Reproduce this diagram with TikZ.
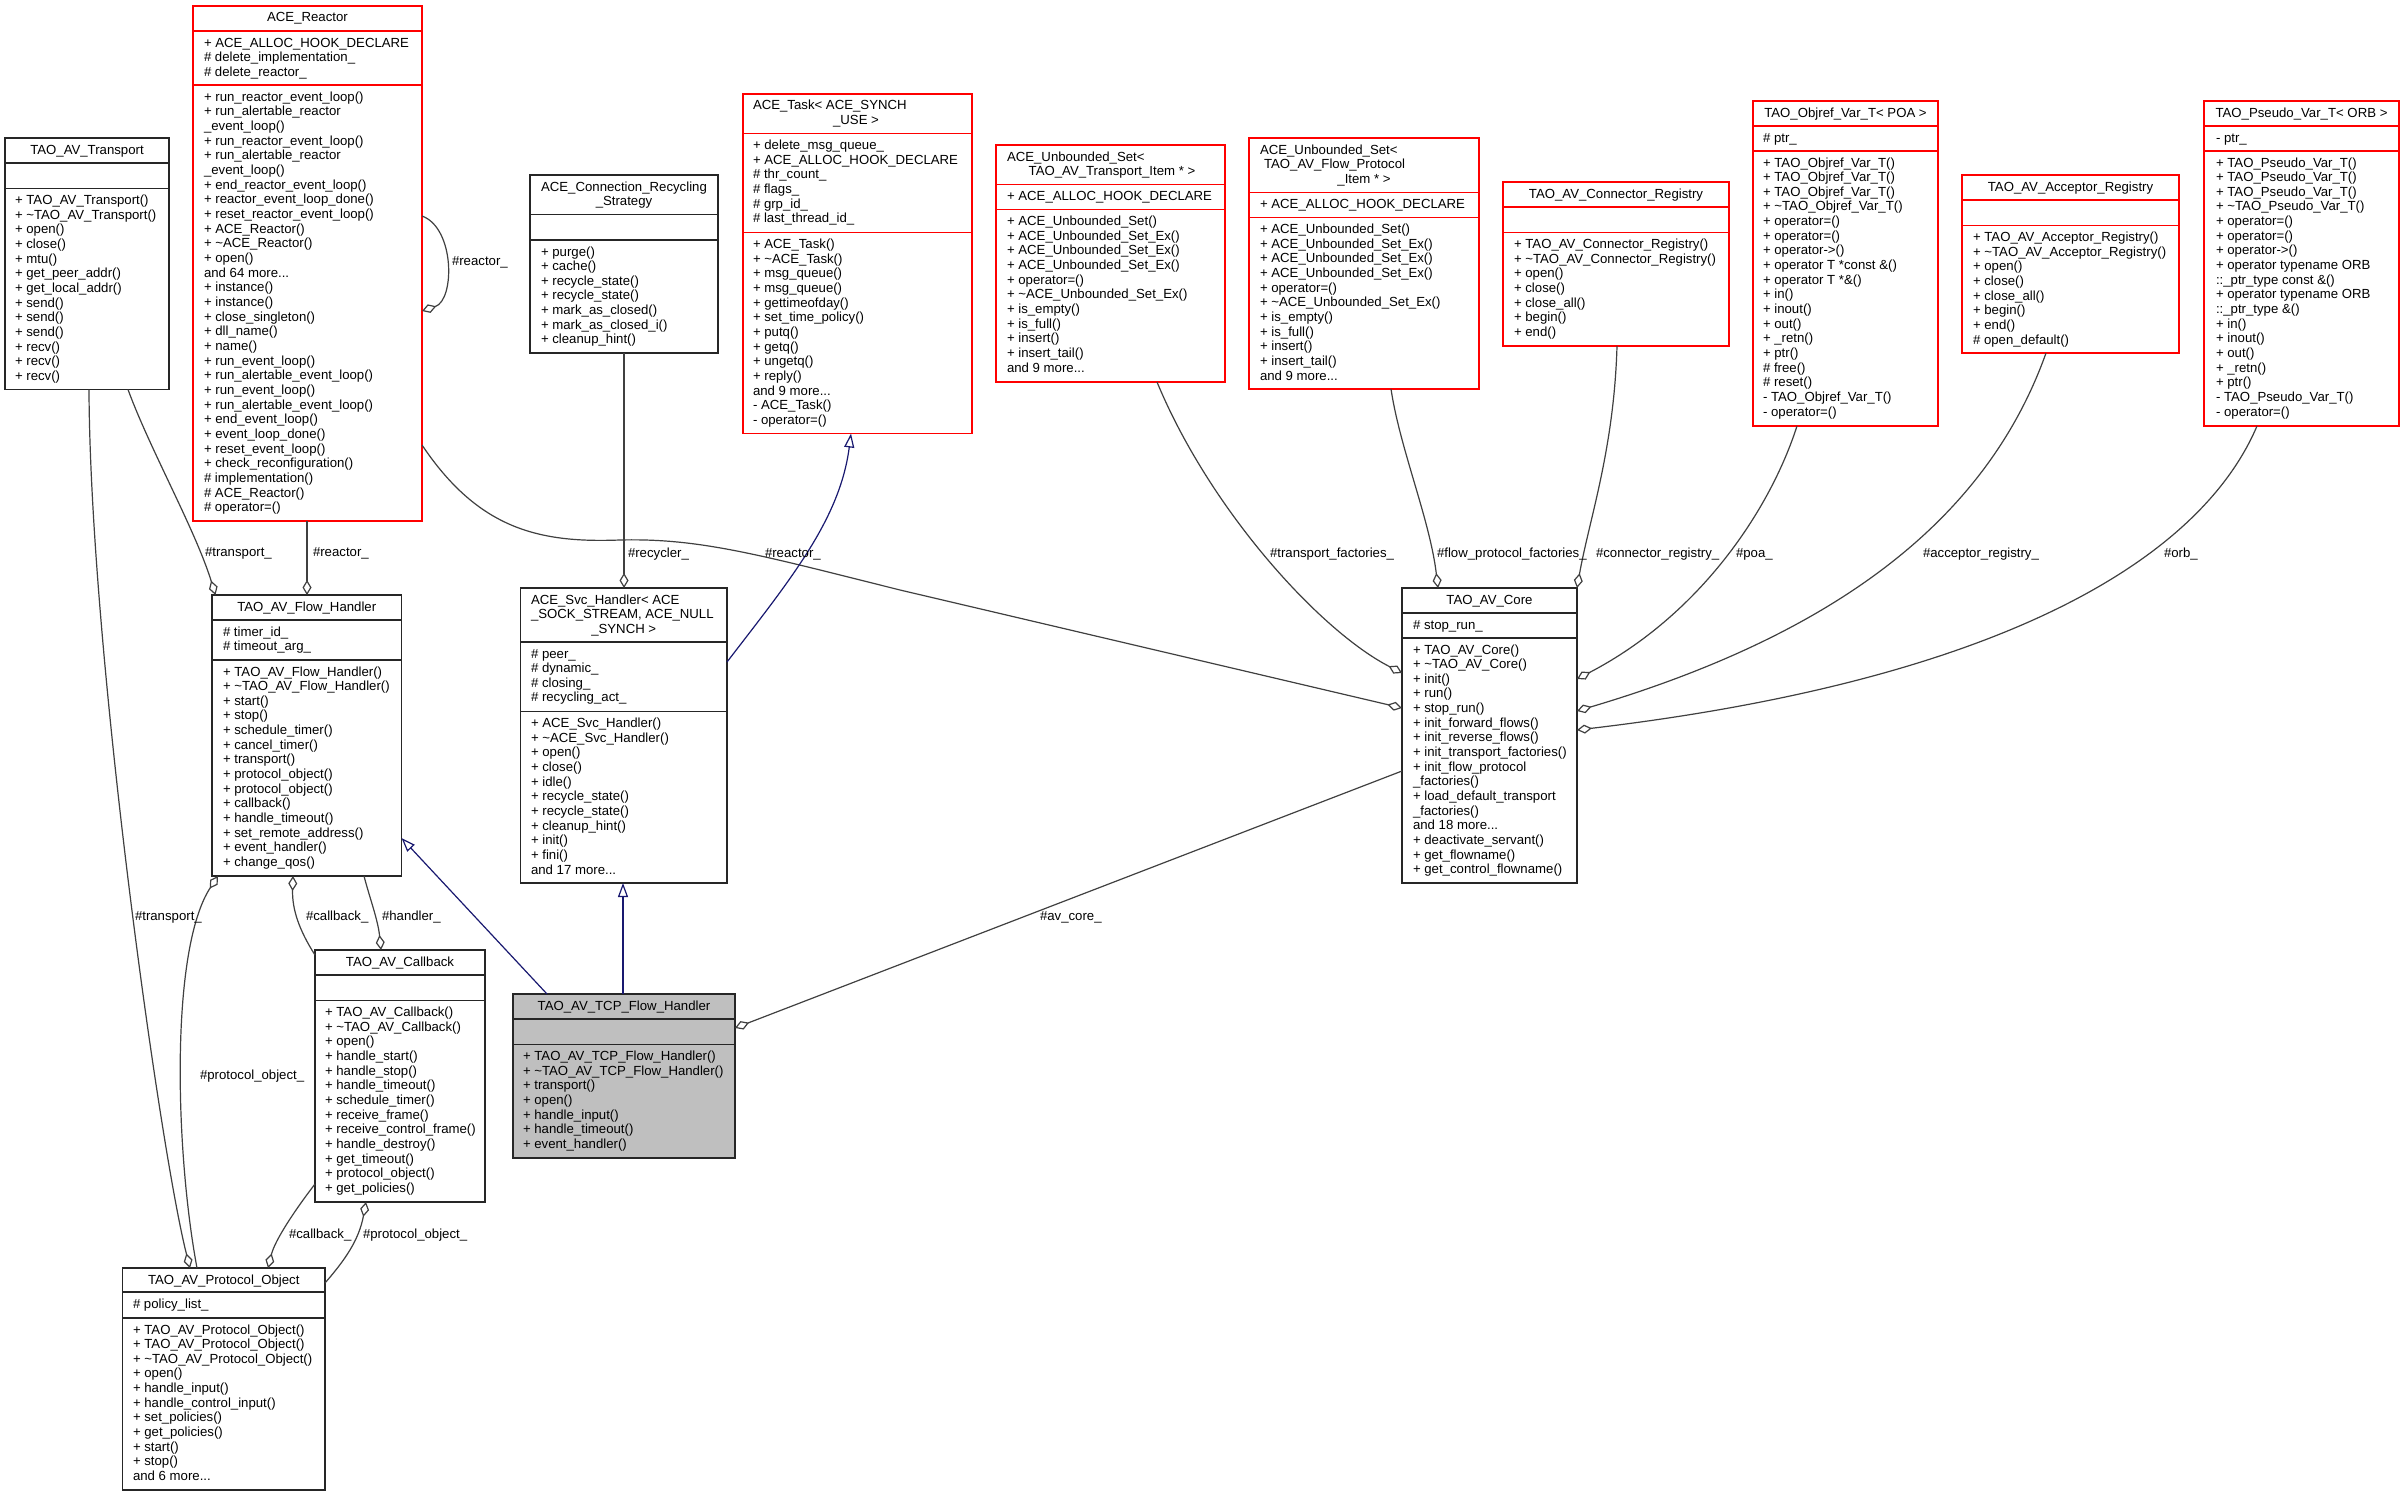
\documentclass[tikz,border=0pt]{standalone}
\usepackage{fontspec}
\setmainfont{Liberation Sans}
\usetikzlibrary{arrows.meta,calc}
\definecolor{edgegray}{HTML}{404040}
\definecolor{inhblue}{HTML}{191970}
\definecolor{boxred}{HTML}{FF0000}
\definecolor{tcpgray}{HTML}{BFBFBF}
\newcommand\tld{\textasciitilde}
\newcommand\ftop{\rule{0pt}{11pt}}
\newcommand\fnt{\fontsize{13.2}{14.66}\selectfont}
\tikzset{
  bbox/.style={draw=black!85, line width=1.5pt, fill=white, rectangle, inner sep=0pt, outer sep=0pt, anchor=north west},
  rbox/.style={bbox, draw=boxred, line width=1.6pt},
  gbox/.style={bbox, fill=tcpgray},
  bboxsep/.style={draw=black!85, line width=1.5pt},
  gboxsep/.style={draw=black!85, line width=1.5pt},
  rboxsep/.style={draw=boxred, line width=1.6pt},
  txt/.style={inner sep=0pt, outer sep=0pt, font=\fnt, align=left, anchor=north west},
  ttl/.style={inner sep=0pt, outer sep=0pt, font=\fnt, align=center, anchor=north},
  lbl/.style={inner sep=0pt, outer sep=0pt, font=\fnt, anchor=west},
  agg/.style={draw=edgegray, line width=1.2pt, -{Diamond[open, length=15pt, width=9pt]}},
  inh/.style={draw=inhblue, line width=1.2pt, -{Triangle[open, length=14pt, width=10pt]}},
}
% name, style, left, top, right, bottom, sep1, sep2
\newcommand\umlbox[8]{%
  \node[#2, minimum width={#5-#3}, minimum height={#6-#4}] (#1) at (#3,#4) {};
  \draw[#2sep] (#3,#7) -- (#5,#7) (#3,#8) -- (#5,#8);
}
\begin{document}
\begin{tikzpicture}[x=1pt,y=-1pt]
\useasboundingbox (0,0) rectangle (2404,1496);
\fill[white] (0,0) rectangle (2404,1496);

% ---------------- boxes ----------------
\umlbox{reactor}{rbox}{193}{6}{422}{521}{31}{85.2}
\umlbox{transport}{bbox}{5}{138}{169}{389.5}{163}{188.5}
\umlbox{recycling}{bbox}{530}{175}{718}{353}{214.5}{240}
\umlbox{task}{rbox}{743}{94}{972}{433.5}{133.5}{232.5}
\umlbox{unbT}{rbox}{996}{145}{1225}{382}{184.5}{209.5}
\umlbox{unbF}{rbox}{1249}{138}{1479}{389}{192.5}{217.5}
\umlbox{connector}{rbox}{1503}{182}{1729}{346}{207}{232.5}
\umlbox{objref}{rbox}{1753}{101}{1938}{426}{126}{151}
\umlbox{acceptor}{rbox}{1962}{175}{2179}{353}{200}{225.5}
\umlbox{pseudo}{rbox}{2204}{101}{2399}{426}{126}{151}
\umlbox{core}{bbox}{1402}{588}{1577}{883}{613}{638}
\umlbox{flowh}{bbox}{212}{595}{401.5}{876}{620}{660}
\umlbox{svc}{bbox}{520.5}{588}{727}{883}{642}{711.5}
\umlbox{callback}{bbox}{315}{950}{485}{1202}{975}{1000.5}
\umlbox{tcp}{gbox}{513}{994}{735}{1158}{1019}{1044.5}
\umlbox{protocol}{bbox}{122.5}{1268}{325}{1490}{1292}{1318}

% ---------------- titles ----------------
\node[ttl] (t-reactor) at (307.5,11) {\ftop ACE\_Reactor};
\node[ttl] (t-transport) at (87,143) {\ftop TAO\_AV\_Transport};
\node[ttl] (t-recycling) at (624,180) {\ftop ACE\_Connection\_Recycling\\\_Strategy};
\node[txt] (t-task1) at (753,99) {\ftop ACE\_Task< ACE\_SYNCH};
\node[ttl] (t-task2) at (856,113.66) {\ftop \_USE >};
\node[txt] (t-unbT1) at (1007,150) {\ftop ACE\_Unbounded\_Set<};
\node[ttl] (t-unbT2) at (1112,164.66) {\ftop TAO\_AV\_Transport\_Item * >};
\node[txt] (t-unbF1) at (1260,143) {\ftop ACE\_Unbounded\_Set<};
\node[txt] (t-unbF2) at (1264,157.66) {\ftop TAO\_AV\_Flow\_Protocol};
\node[ttl] (t-unbF3) at (1364,172.32) {\ftop \_Item * >};
\node[ttl] (t-connector) at (1616,187) {\ftop TAO\_AV\_Connector\_Registry};
\node[ttl] (t-objref) at (1845.5,106) {\ftop TAO\_Objref\_Var\_T< POA >};
\node[ttl] (t-acceptor) at (2070.5,180) {\ftop TAO\_AV\_Acceptor\_Registry};
\node[ttl] (t-pseudo) at (2301.5,106) {\ftop TAO\_Pseudo\_Var\_T< ORB >};
\node[ttl] (t-core) at (1489.5,593) {\ftop TAO\_AV\_Core};
\node[ttl] (t-flowh) at (306.75,600) {\ftop TAO\_AV\_Flow\_Handler};
\node[txt] (t-svc1) at (531,593) {\ftop ACE\_Svc\_Handler< ACE};
\node[txt] (t-svc2) at (531,607.66) {\ftop \_SOCK\_STREAM, ACE\_NULL};
\node[ttl] (t-svc3) at (623.75,622.32) {\ftop \_SYNCH >};
\node[ttl] (t-callback) at (400,955) {\ftop TAO\_AV\_Callback};
\node[ttl] (t-tcp) at (624,999) {\ftop TAO\_AV\_TCP\_Flow\_Handler};
\node[ttl] (t-protocol) at (223.75,1273) {\ftop TAO\_AV\_Protocol\_Object};

% ---------------- members ----------------
\node[txt] (a-reactor) at (204,36) {\ftop + ACE\_ALLOC\_HOOK\_DECLARE\\\# delete\_implementation\_\\\# delete\_reactor\_};
\node[txt] (m-reactor) at (204,90.2) {\ftop + run\_reactor\_event\_loop()\\+ run\_alertable\_reactor\\\_event\_loop()\\+ run\_reactor\_event\_loop()\\+ run\_alertable\_reactor\\\_event\_loop()\\+ end\_reactor\_event\_loop()\\+ reactor\_event\_loop\_done()\\+ reset\_reactor\_event\_loop()\\+ ACE\_Reactor()\\+ \tld ACE\_Reactor()\\+ open()\\and 64 more...\\+ instance()\\+ instance()\\+ close\_singleton()\\+ dll\_name()\\+ name()\\+ run\_event\_loop()\\+ run\_alertable\_event\_loop()\\+ run\_event\_loop()\\+ run\_alertable\_event\_loop()\\+ end\_event\_loop()\\+ event\_loop\_done()\\+ reset\_event\_loop()\\+ check\_reconfiguration()\\\# implementation()\\\# ACE\_Reactor()\\\# operator=()};

\node[txt] (m-transport) at (15,193.5) {\ftop + TAO\_AV\_Transport()\\+ \tld TAO\_AV\_Transport()\\+ open()\\+ close()\\+ mtu()\\+ get\_peer\_addr()\\+ get\_local\_addr()\\+ send()\\+ send()\\+ send()\\+ recv()\\+ recv()\\+ recv()};

\node[txt] (m-recycling) at (541,245) {\ftop + purge()\\+ cache()\\+ recycle\_state()\\+ recycle\_state()\\+ mark\_as\_closed()\\+ mark\_as\_closed\_i()\\+ cleanup\_hint()};

\node[txt] (a-task) at (753,138.5) {\ftop + delete\_msg\_queue\_\\+ ACE\_ALLOC\_HOOK\_DECLARE\\\# thr\_count\_\\\# flags\_\\\# grp\_id\_\\\# last\_thread\_id\_};
\node[txt] (m-task) at (753,237.5) {\ftop + ACE\_Task()\\+ \tld ACE\_Task()\\+ msg\_queue()\\+ msg\_queue()\\+ gettimeofday()\\+ set\_time\_policy()\\+ putq()\\+ getq()\\+ ungetq()\\+ reply()\\and 9 more...\\- ACE\_Task()\\- operator=()};

\node[txt] (a-unbT) at (1007,189.5) {\ftop + ACE\_ALLOC\_HOOK\_DECLARE};
\node[txt] (m-unbT) at (1007,214.5) {\ftop + ACE\_Unbounded\_Set()\\+ ACE\_Unbounded\_Set\_Ex()\\+ ACE\_Unbounded\_Set\_Ex()\\+ ACE\_Unbounded\_Set\_Ex()\\+ operator=()\\+ \tld ACE\_Unbounded\_Set\_Ex()\\+ is\_empty()\\+ is\_full()\\+ insert()\\+ insert\_tail()\\and 9 more...};

\node[txt] (a-unbF) at (1260,197.5) {\ftop + ACE\_ALLOC\_HOOK\_DECLARE};
\node[txt] (m-unbF) at (1260,222.5) {\ftop + ACE\_Unbounded\_Set()\\+ ACE\_Unbounded\_Set\_Ex()\\+ ACE\_Unbounded\_Set\_Ex()\\+ ACE\_Unbounded\_Set\_Ex()\\+ operator=()\\+ \tld ACE\_Unbounded\_Set\_Ex()\\+ is\_empty()\\+ is\_full()\\+ insert()\\+ insert\_tail()\\and 9 more...};

\node[txt] (m-connector) at (1514,237.5) {\ftop + TAO\_AV\_Connector\_Registry()\\+ \tld TAO\_AV\_Connector\_Registry()\\+ open()\\+ close()\\+ close\_all()\\+ begin()\\+ end()};

\node[txt] (a-objref) at (1763,131) {\ftop \# ptr\_};
\node[txt] (m-objref) at (1763,156) {\ftop + TAO\_Objref\_Var\_T()\\+ TAO\_Objref\_Var\_T()\\+ TAO\_Objref\_Var\_T()\\+ \tld TAO\_Objref\_Var\_T()\\+ operator=()\\+ operator=()\\+ operator->()\\+ operator T *const \&()\\+ operator T *\&()\\+ in()\\+ inout()\\+ out()\\+ \_retn()\\+ ptr()\\\# free()\\\# reset()\\- TAO\_Objref\_Var\_T()\\- operator=()};

\node[txt] (m-acceptor) at (1973,230.5) {\ftop + TAO\_AV\_Acceptor\_Registry()\\+ \tld TAO\_AV\_Acceptor\_Registry()\\+ open()\\+ close()\\+ close\_all()\\+ begin()\\+ end()\\\# open\_default()};

\node[txt] (a-pseudo) at (2216,131) {\ftop - ptr\_};
\node[txt] (m-pseudo) at (2216,156) {\ftop + TAO\_Pseudo\_Var\_T()\\+ TAO\_Pseudo\_Var\_T()\\+ TAO\_Pseudo\_Var\_T()\\+ \tld TAO\_Pseudo\_Var\_T()\\+ operator=()\\+ operator=()\\+ operator->()\\+ operator typename ORB\\::\_ptr\_type const \&()\\+ operator typename ORB\\::\_ptr\_type \&()\\+ in()\\+ inout()\\+ out()\\+ \_retn()\\+ ptr()\\- TAO\_Pseudo\_Var\_T()\\- operator=()};

\node[txt] (a-core) at (1413,618) {\ftop \# stop\_run\_};
\node[txt] (m-core) at (1413,643) {\ftop + TAO\_AV\_Core()\\+ \tld TAO\_AV\_Core()\\+ init()\\+ run()\\+ stop\_run()\\+ init\_forward\_flows()\\+ init\_reverse\_flows()\\+ init\_transport\_factories()\\+ init\_flow\_protocol\\\_factories()\\+ load\_default\_transport\\\_factories()\\and 18 more...\\+ deactivate\_servant()\\+ get\_flowname()\\+ get\_control\_flowname()};

\node[txt] (a-flowh) at (223,625) {\ftop \# timer\_id\_\\\# timeout\_arg\_};
\node[txt] (m-flowh) at (223,665) {\ftop + TAO\_AV\_Flow\_Handler()\\+ \tld TAO\_AV\_Flow\_Handler()\\+ start()\\+ stop()\\+ schedule\_timer()\\+ cancel\_timer()\\+ transport()\\+ protocol\_object()\\+ protocol\_object()\\+ callback()\\+ handle\_timeout()\\+ set\_remote\_address()\\+ event\_handler()\\+ change\_qos()};

\node[txt] (a-svc) at (531,647) {\ftop \# peer\_\\\# dynamic\_\\\# closing\_\\\# recycling\_act\_};
\node[txt] (m-svc) at (531,716.5) {\ftop + ACE\_Svc\_Handler()\\+ \tld ACE\_Svc\_Handler()\\+ open()\\+ close()\\+ idle()\\+ recycle\_state()\\+ recycle\_state()\\+ cleanup\_hint()\\+ init()\\+ fini()\\and 17 more...};

\node[txt] (m-callback) at (325,1005.5) {\ftop + TAO\_AV\_Callback()\\+ \tld TAO\_AV\_Callback()\\+ open()\\+ handle\_start()\\+ handle\_stop()\\+ handle\_timeout()\\+ schedule\_timer()\\+ receive\_frame()\\+ receive\_control\_frame()\\+ handle\_destroy()\\+ get\_timeout()\\+ protocol\_object()\\+ get\_policies()};

\node[txt] (m-tcp) at (523,1049.5) {\ftop + TAO\_AV\_TCP\_Flow\_Handler()\\+ \tld TAO\_AV\_TCP\_Flow\_Handler()\\+ transport()\\+ open()\\+ handle\_input()\\+ handle\_timeout()\\+ event\_handler()};

\node[txt] (a-protocol) at (133,1297) {\ftop \# policy\_list\_};
\node[txt] (m-protocol) at (133,1323) {\ftop + TAO\_AV\_Protocol\_Object()\\+ TAO\_AV\_Protocol\_Object()\\+ \tld TAO\_AV\_Protocol\_Object()\\+ open()\\+ handle\_input()\\+ handle\_control\_input()\\+ set\_policies()\\+ get\_policies()\\+ start()\\+ stop()\\and 6 more...};

% ---------------- connectors ----------------
\draw[agg] ($(reactor.north east)+(0,210)$) .. controls +(33,12) and +(33,-11) .. ($(reactor.north east)+(0,305)$);
\draw[agg] ($(reactor.south west)+(114,0)$) -- ($(flowh.north west)+(95,0)$);
\draw[agg] ($(transport.south west)+(123,0)$) .. controls +(22,60) and +(-20,-65) .. ($(flowh.north west)+(3.5,0)$);
\draw[agg] ($(transport.south west)+(84,0)$) .. controls +(1,260) and +(-30,-118) .. ($(protocol.north west)+(67.5,0)$);
\draw[agg] ($(reactor.north east)+(0,439)$) .. controls +(57,85) and +(-80,3) .. (620,540) .. controls +(80,-2) and +(-140,-35) .. (900,590) -- ($(core.north west)+(0,120)$);
\draw[agg] ($(recycling.south west)+(94,0)$) -- ($(svc.north west)+(103.5,0)$);
\draw[inh] ($(svc.north east)+(0,74)$) .. controls +(63,-82) and +(-11,86) .. ($(task.south west)+(108,0)$);
\draw[agg] ($(unbT.south west)+(161,0)$) .. controls +(53,128) and +(-82,-42) .. ($(core.north west)+(0,85)$);
\draw[agg] ($(unbF.south west)+(142,0)$) .. controls +(9,60) and +(-8,-68) .. ($(core.north west)+(36,0)$);
\draw[agg] ($(connector.south west)+(114,0)$) .. controls +(-3,104) and +(12,-68) .. (core.north east);
\draw[agg] ($(objref.south west)+(44,0)$) .. controls +(-27,84) and +(123,-64) .. ($(core.north east)+(0,91)$);
\draw[agg] ($(acceptor.south west)+(84,0)$) .. controls +(-56,157) and +(273,-81) .. ($(core.north east)+(0,123)$);
\draw[agg] ($(pseudo.south west)+(53,0)$) .. controls +(-57,134) and +(423,-50) .. ($(core.north east)+(0,142)$);
\draw[agg] ($(core.north west)+(0,183)$) -- ($(tcp.north east)+(0,34)$);
\draw[inh] ($(tcp.north west)+(34,0)$) -- ($(flowh.north east)+(0,243)$);
\draw[inh] ($(tcp.north west)+(110,0)$) -- ($(svc.south west)+(102.5,0)$);
\draw[agg] ($(protocol.north west)+(74.5,0)$) .. controls +(-22,-118) and +(-48,73) .. ($(flowh.south west)+(6,0)$);
\draw[agg] ($(callback.north west)+(0,5)$) .. controls +(-16,-25) and +(-1,33) .. ($(flowh.south west)+(81,0)$);
\draw[agg] ($(flowh.south west)+(152,0)$) .. controls +(6,23) and +(-3,-30) .. ($(callback.north west)+(66,0)$);
\draw[agg] ($(callback.north west)+(0,234)$) .. controls +(-20,26) and +(7,-28) .. ($(protocol.north west)+(145.5,0)$);
\draw[agg] ($(protocol.north east)+(0,15)$) .. controls +(20,-23) and +(-7,38) .. ($(callback.south west)+(51,0)$);

% ---------------- labels ----------------
\node[lbl] (l1) at (452,262) {\#reactor\_};
\node[lbl] (l2) at (313,553) {\#reactor\_};
\node[lbl] (l3) at (205,553) {\#transport\_};
\node[lbl] (l4) at (135,917) {\#transport\_};
\node[lbl] (l5) at (765,554) {\#reactor\_};
\node[lbl] (l6) at (628,554) {\#recycler\_};
\node[lbl] (l7) at (1270,554) {\#transport\_factories\_};
\node[lbl] (l8) at (1437,554) {\#flow\_protocol\_factories\_};
\node[lbl] (l9) at (1596,554) {\#connector\_registry\_};
\node[lbl] (l10) at (1736,554) {\#poa\_};
\node[lbl] (l11) at (1923,554) {\#acceptor\_registry\_};
\node[lbl] (l12) at (2164,554) {\#orb\_};
\node[lbl] (l13) at (1040,917) {\#av\_core\_};
\node[lbl] (l14) at (200,1076) {\#protocol\_object\_};
\node[lbl] (l15) at (306,917) {\#callback\_};
\node[lbl] (l16) at (382,917) {\#handler\_};
\node[lbl] (l17) at (289,1235) {\#callback\_};
\node[lbl] (l18) at (363,1235) {\#protocol\_object\_};
\end{tikzpicture}
\end{document}
